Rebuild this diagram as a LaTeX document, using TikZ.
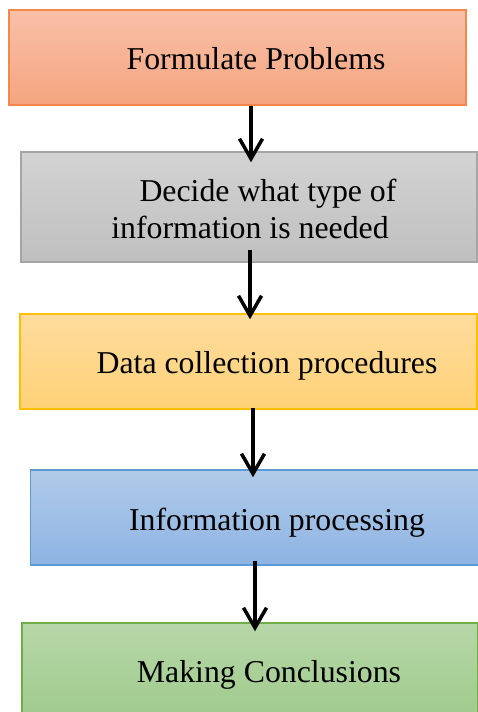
\documentclass[tikz,border=0pt]{standalone}
\usepackage{fontspec}
\setmainfont{Liberation Serif}
\usepackage{tikz}
\usetikzlibrary{arrows.meta, shapes, positioning}
\usepackage{xcolor}
\definecolor{orangetop}{RGB}{248,192,168}
\definecolor{orangebottom}{RGB}{245,165,127}
\definecolor{orangeline}{RGB}{244,136,74}
\definecolor{graytop}{RGB}{211,211,211}
\definecolor{graybottom}{RGB}{191,191,191}
\definecolor{grayline}{RGB}{165,165,165}
\definecolor{goldtop}{RGB}{255,220,158}
\definecolor{goldbottom}{RGB}{255,210,119}
\definecolor{goldline}{RGB}{255,192,0}
\definecolor{bluetop}{RGB}{176,202,232}
\definecolor{bluebottom}{RGB}{142,180,227}
\definecolor{blueline}{RGB}{91,155,213}
\definecolor{greentop}{RGB}{182,215,168}
\definecolor{greenbottom}{RGB}{160,203,140}
\definecolor{greenline}{RGB}{112,173,71}
\tikzset{stepbox/.style={rectangle, line width=1.5pt, inner sep=0pt},steptext/.style={font=\fontsize{31.8}{37}\selectfont, inner sep=0pt, align=center}}
\tikzset{flow/.style={-{Straight Barb[length=20pt, width=23pt, line width=3.5pt]}, line width=3.5pt}}

\begin{document}
\begin{tikzpicture}[
        x=1pt, y=1pt,
        orangebox/.style={stepbox, draw=orangeline, top color=orangetop, bottom color=orangebottom},
        graybox/.style={stepbox, draw=grayline, top color=graytop, bottom color=graybottom},
        goldbox/.style={stepbox, draw=goldline, top color=goldtop, bottom color=goldbottom},
        bluebox/.style={stepbox, draw=blueline, top color=bluetop, bottom color=bluebottom},
        greenbox/.style={stepbox, draw=greenline, top color=greentop, bottom color=greenbottom}
    ]
        \useasboundingbox (0,0) rectangle (478,-712);
        % Boxes
        \node[orangebox, minimum width=457pt, minimum height=95pt] (problems) at (237.5,-57.5) {};
        \node[graybox, minimum width=456pt, minimum height=110pt] (decide) at (249,-207) {};
        \node[goldbox, minimum width=457pt, minimum height=95pt] (collection) at (248.5,-361.5) {};
        \node[bluebox, minimum width=448pt, minimum height=95pt] (processing) at (254.5,-517.5) {};
        \node[greenbox, minimum width=456pt, minimum height=95pt] (conclusions) at (250,-670.5) {};
        % Texts
        \node[steptext, anchor=base] (problemstext) at (256,-69) {Formulate Problems};
        \node[steptext] (decidetext) at (250,-208.5) {\hspace*{36pt}Decide what type of\\information is needed};
        \node[steptext, anchor=base] (collectiontext) at (267,-373) {Data collection procedures};
        \node[steptext, anchor=base] (processingtext) at (277,-530) {Information processing};
        \node[steptext, anchor=base] (conclusionstext) at (269,-682) {Making Conclusions};
        % Arrows
        \draw[flow] ([xshift=13.5pt]problems.south) -- ([xshift=2pt, yshift=-11pt]decide.north);
        \draw[flow] ([xshift=1pt, yshift=13pt]decide.south) -- ([xshift=1.5pt, yshift=-6pt]collection.north);
        \draw[flow] ([xshift=4.5pt, yshift=2pt]collection.south) -- ([xshift=-1.5pt, yshift=-8pt]processing.north);
        \draw[flow] ([xshift=0.5pt, yshift=5pt]processing.south) -- ([xshift=5pt, yshift=-9pt]conclusions.north);
    \end{tikzpicture}
\end{document}
